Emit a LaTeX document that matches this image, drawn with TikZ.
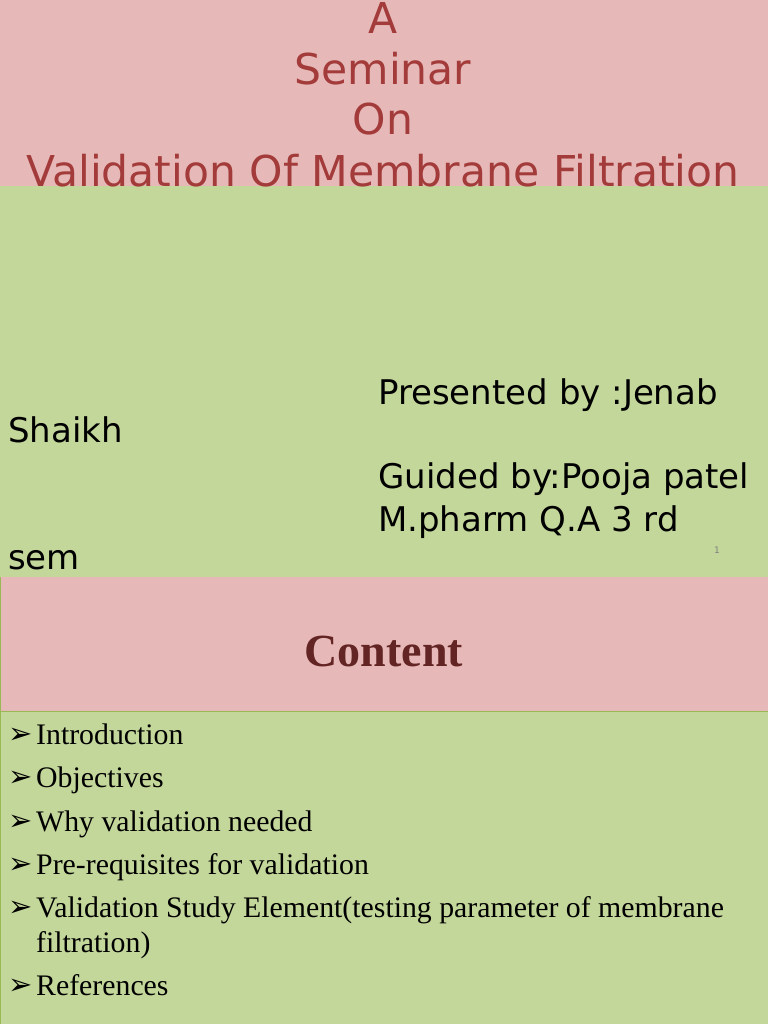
\documentclass[tikz,border=0pt]{standalone}
\usepackage{fontspec}
\setmainfont{Liberation Serif}
\newfontfamily\dvs{DejaVu Sans}
\definecolor{pinkbg}{HTML}{E6B8B7}
\definecolor{greenbg}{HTML}{C4D79B}
\definecolor{titlered}{HTML}{A33B3B}
\definecolor{contred}{HTML}{632523}
\definecolor{edge}{HTML}{98B954}
\begin{document}
\begin{tikzpicture}[x=1pt,y=-1pt,
  ttl/.style={anchor=base,text=titlered,font=\dvs\fontsize{42.5}{42.5}\selectfont,inner sep=0},
  pres/.style={anchor=base west,font=\dvs\fontsize{34}{34}\selectfont,inner sep=0},
  item/.style={anchor=base west,font=\fontsize{29.8}{29.8}\selectfont,inner sep=0},
  arr/.style={anchor=base west,font=\dvs\bfseries\fontsize{29}{29}\selectfont,inner sep=0}]
\useasboundingbox (0,0) rectangle (768,1024);
\fill[pinkbg] (0,0) rectangle (768,186);
\fill[greenbg] (0,186) rectangle (768,577);
\fill[pinkbg] (0,577) rectangle (768,711);
\fill[greenbg] (0,711) rectangle (768,1024);
\draw[edge,line width=1] (0.5,577) -- (0.5,1024) (0,711) -- (768,711);
\node[ttl] (t1) at (383,34) {A};
\node[ttl] (t2) at (383,85) {Seminar};
\node[ttl] (t3) at (383,135) {On};
\node[ttl] (t4) at (383,187) {Validation Of Membrane Filtration};
\node[pres] (p1) at (378,404) {Presented by :Jenab};
\node[pres] (p2) at (8,442) {Shaikh};
\node[pres] (p3) at (378,488) {Guided by:Pooja patel};
\node[pres] (p4) at (378,531) {M.pharm Q.A 3 rd};
\node[pres] (p5) at (8,569) {sem};
\node[anchor=base,font=\dvs\fontsize{9}{9}\selectfont,text=gray,inner sep=0] (pg) at (717,553) {1};
\node[anchor=base,font=\bfseries\fontsize{46}{46}\selectfont,text=contred,inner sep=0] (ct) at (384,666) {Content};
\foreach \y/\t [count=\i] in {744/Introduction,787/Objectives,831/Why validation needed,874/Pre-requisites for validation,917/Validation Study Element(testing parameter of membrane,995/References}{
  \node[arr] (a\i) at (8,\y-1) {➢};
  \node[item] (b\i) at (36,\y) {\t};
}
\node[item] (b7) at (36,952) {filtration)};
\end{tikzpicture}
\end{document}
